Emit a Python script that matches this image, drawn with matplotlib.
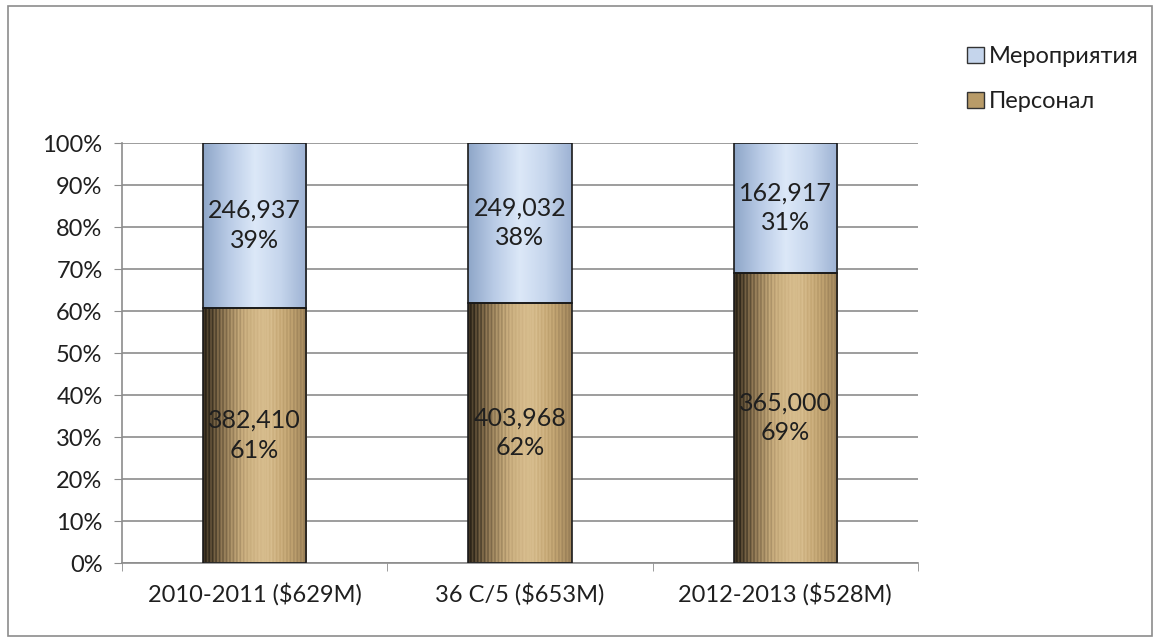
import matplotlib.pyplot as plt
import numpy as np
from matplotlib.patches import Rectangle, Patch
from matplotlib.colors import LinearSegmentedColormap

plt.rcParams['font.family'] = ['Lato', 'DejaVu Sans']

# Данные
categories = ['2010-2011 ($629M)', '36 C/5 ($653M)', '2012-2013 ($528M)']
personnel = [382410, 403968, 365000]
activities = [246937, 249032, 162917]

totals = np.array(personnel) + np.array(activities)
pers_pct = np.array(personnel) / totals * 100
act_pct = np.array(activities) / totals * 100

fig = plt.figure(figsize=(11.6, 6.42), dpi=100)
# рамка области диаграммы
fig.patches.append(Rectangle((0.007, 0.009), 0.986, 0.982, transform=fig.transFigure,
                             fill=False, edgecolor='#8c8c8c', linewidth=1.2))
ax = fig.add_axes([122 / 1160, 1 - 563 / 642, (918 - 122) / 1160, (563 - 143) / 642])

x = np.arange(len(categories))
width = 0.39

cmap_blue = LinearSegmentedColormap.from_list('b', ['#8ea6c8', '#b9cbe6', '#dce8f8', '#c5d5ec', '#9db2d3'])
cmap_tan = LinearSegmentedColormap.from_list('t', ['#2b2418', '#8a7350', '#c9ad7d', '#d9bf90', '#c4a673', '#9a8058'])

bars_p = ax.bar(x, pers_pct, width, color='none', edgecolor='#1a1a1a', linewidth=1.2, zorder=3)
bars_a = ax.bar(x, act_pct, width, bottom=pers_pct, color='none', edgecolor='#1a1a1a', linewidth=1.2, zorder=3)

grad = np.linspace(0, 1, 256).reshape(1, -1)
stripes = grad + 0.06 * np.sin(np.linspace(0, 60 * np.pi, 256)).reshape(1, -1)
for bp, ba in zip(bars_p, bars_a):
    x0 = bp.get_x()
    w = bp.get_width()
    im = ax.imshow(np.clip(stripes, 0, 1), cmap=cmap_tan, aspect='auto',
                   extent=[x0, x0 + w, 0, bp.get_height()], zorder=2)
    im.set_clip_path(bp)
    im2 = ax.imshow(grad, cmap=cmap_blue, aspect='auto',
                    extent=[x0, x0 + w, ba.get_y(), ba.get_y() + ba.get_height()], zorder=2)
    im2.set_clip_path(ba)

for i in range(len(categories)):
    ax.text(x[i], pers_pct[i] / 2, f'{personnel[i]:,}\n{pers_pct[i]:.0f}%',
            ha='center', va='center', fontsize=18, color='#1f1f1f', zorder=4, linespacing=1.35)
    ax.text(x[i], pers_pct[i] + act_pct[i] / 2, f'{activities[i]:,}\n{act_pct[i]:.0f}%',
            ha='center', va='center', fontsize=18, color='#1f1f1f', zorder=4, linespacing=1.35)

ax.set_xlim(-0.5, len(categories) - 0.5)
ax.set_ylim(0, 100)
ax.set_yticks(np.arange(0, 101, 10))
ax.set_yticklabels([f'{v}%' for v in range(0, 101, 10)])
ax.set_xticks(x)
ax.set_xticklabels(categories)
ax.set_xticks(np.arange(-0.5, len(categories), 1), minor=True)
ax.tick_params(axis='x', which='major', length=0, pad=14, labelsize=17, labelcolor='#1f1f1f')
ax.tick_params(axis='x', which='minor', length=6, color='#8c8c8c', direction='out')
ax.tick_params(axis='y', length=6, color='#8c8c8c', labelsize=17, pad=8, labelcolor='#1f1f1f')
ax.yaxis.grid(True, color='#8c8c8c', linewidth=1.2, zorder=0)
ax.set_axisbelow(True)
for s in ['top', 'right']:
    ax.spines[s].set_visible(False)
for s in ['left', 'bottom']:
    ax.spines[s].set_color('#8c8c8c')
    ax.spines[s].set_linewidth(1.2)

handles = [Patch(facecolor='#c5d5ec', edgecolor='#333333', label='Мероприятия'),
           Patch(facecolor='#b89b68', edgecolor='#333333', label='Персонал')]
fig.legend(handles=handles, loc='upper left', bbox_to_anchor=(958 / 1160, 1 - 37 / 642),
           frameon=False, fontsize=17, handlelength=0.7, handleheight=0.7,
           handletextpad=0.2, labelspacing=1.0, borderaxespad=0, labelcolor='#1f1f1f')

fig.savefig('out.png', dpi=100)
